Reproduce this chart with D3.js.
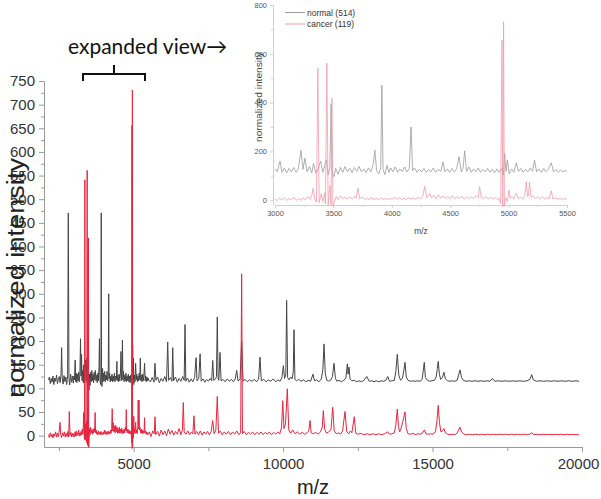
<!DOCTYPE html>
<html>
<head>
<meta charset="utf-8">
<script src="https://cdn.jsdelivr.net/npm/d3@7"></script>
<style>
body { margin: 0; background: #fff; }
</style>
</head>
<body>
<div id="canvas"></div>
<script>
"use strict"

/* spectra, [m/z, normalized intensity] */
let normalSpectrum = [
  [2150,118],[2180,124],[2210,110],[2240,121],[2270,113],[2300,126],[2330,108],[2360,122],[2390,115],[2420,128],
  [2450,110],[2480,119],[2510,125],[2540,112],[2570,130],[2590,186],[2610,122],[2640,109],[2670,127],[2700,114],
  [2730,124],[2760,108],[2790,128],[2813,471],[2835,120],[2860,107],[2890,130],[2920,113],[2950,126],[2980,111],
  [3000,126],[3020,118],[3043,160],[3060,114],[3080,132],[3100,112],[3120,130],[3140,116],[3160,134],[3180,114],
  [3200,128],[3222,205],[3240,126],[3256,172],[3275,116],[3295,138],[3315,112],[3330,150],[3350,110],[3370,130],
  [3390,160],[3410,114],[3425,140],[3440,165],[3455,104],[3470,132],[3480,393],[3492,108],[3505,96],[3520,130],
  [3540,106],[3560,134],[3580,114],[3600,138],[3620,116],[3640,130],[3660,112],[3680,134],[3700,118],[3720,138],
  [3740,116],[3760,128],[3780,112],[3800,132],[3820,116],[3840,145],[3855,205],[3870,120],[3890,108],[3905,134],
  [3915,471],[3925,126],[3940,104],[3960,142],[3975,114],[3990,132],[4010,116],[4030,136],[4050,114],[4070,128],
  [4090,118],[4110,136],[4130,116],[4150,130],[4165,300],[4178,120],[4195,132],[4215,114],[4235,126],[4255,116],
  [4275,130],[4295,114],[4315,126],[4335,116],[4355,132],[4375,114],[4395,126],[4420,118],[4439,157],[4455,116],
  [4475,128],[4495,114],[4515,130],[4535,116],[4555,128],[4576,178],[4595,116],[4610,132],[4624,202],[4640,118],
  [4660,136],[4680,114],[4700,128],[4720,116],[4740,132],[4760,114],[4780,126],[4800,116],[4820,130],[4840,114],
  [4860,126],[4880,112],[4900,128],[4920,114],[4940,130],[4955,104],[4966,192],[4978,118],[4990,164],[5005,108],
  [5025,128],[5045,114],[5066,153],[5085,118],[5105,130],[5125,114],[5145,126],[5165,116],[5185,132],[5205,118],
  [5222,164],[5240,116],[5260,128],[5280,114],[5300,130],[5320,116],[5340,126],[5365,153],[5385,116],[5405,126],
  [5425,114],[5445,124],[5465,116],[5485,122],[5500,117],
  [5560,114],[5620,123],[5680,113],[5714,153],[5745,117],[5800,124],[5860,112],[5920,121],[5980,115],[6040,125],
  [6100,114],[6139,198],[6170,117],[6230,123],[6280,115],[6307,186],[6335,116],[6400,124],[6460,113],[6520,121],
  [6580,115],[6640,125],[6690,117],[6718,235],[6745,115],[6800,122],[6860,113],[6920,120],[6980,114],[7040,123],
  [7088,165],[7120,116],[7180,121],[7222,173],[7260,115],[7320,120],[7380,113],[7440,119],[7500,115],[7560,121],
  [7610,116],[7645,159],[7680,117],[7740,120],[7770,125],[7798,251],[7825,121],[7850,117],[7889,176],[7925,116],
  [7990,119],[8060,114],[8130,120],[8200,115],[8270,119],[8340,114],[8400,120],[8447,138],[8490,116],[8560,119],
  [8613,200],[8660,115],[8730,119],[8800,114],[8880,118],[8960,115],[9040,119],[9110,114],[9180,120],[9227,166],
  [9270,116],[9350,119],[9430,114],[9510,118],[9590,115],[9670,120],[9750,114],[9830,118],[9900,115],[9960,123],
  [10008,148],[10050,121],[10090,130],[10118,286],[10150,123],[10200,118],[10250,124],[10300,120],[10340,135],[10364,224],
  [10395,119],[10450,116],[10520,119],[10600,115],[10680,118],[10760,114],[10840,117],[10920,115],[11000,130],[11050,116],
  [11120,118],[11200,114],[11280,120],[11330,140],[11369,194],[11410,132],[11460,117],[11520,115],[11600,118],[11650,125],
  [11704,153],[11750,121],[11800,115],[11870,117],[11950,114],[12030,117],[12100,122],[12150,152],[12175,130],[12204,145],
  [12240,120],[12300,116],[12380,117],[12460,114],[12540,116],[12620,114],[12700,117],[12800,125],[12880,115],[12960,116],
  [13040,114],[13120,116],[13200,114],[13280,116],[13360,115],[13440,117],[13500,125],[13560,115],[13640,116],[13720,117],
  [13770,135],[13820,172],[13870,128],[13930,117],[13990,121],[14040,138],[14078,155],[14120,124],[14180,117],[14260,115],
  [14340,116],[14420,115],[14500,116],[14580,115],[14650,119],[14690,138],[14723,155],[14760,123],[14830,117],[14900,115],
  [14980,116],[15060,117],[15120,124],[15160,142],[15190,157],[15230,130],[15270,119],[15330,123],[15380,134],[15430,120],
  [15500,116],[15580,115],[15660,116],[15740,115],[15820,117],[15870,128],[15920,139],[15970,123],[16030,117],[16120,115],
  [16220,116],[16320,115],[16420,116],[16520,115],[16620,116],[16720,115],[16820,116],[16920,115],[17000,121],[17080,115],
  [17200,116],[17320,115],[17440,116],[17560,115],[17680,116],[17800,115],[17920,116],[18040,115],[18160,116],[18260,119],
  [18317,129],[18370,118],[18480,115],[18600,116],[18720,115],[18840,116],[18960,115],[19080,116],[19200,115],[19320,116],
  [19440,115],[19560,116],[19680,115],[19800,116],[19900,115]
];

let cancerSpectrum = [
  [2150,2],[2180,-4],[2210,6],[2240,-2],[2270,3],[2300,-5],[2330,4],[2360,-1],[2390,8],[2420,-3],
  [2450,5],[2480,-2],[2510,10],[2535,28],[2560,2],[2590,-4],[2620,6],[2650,-1],[2680,8],[2710,-3],
  [2740,5],[2770,-2],[2800,9],[2825,-3],[2847,51],[2870,0],[2900,7],[2930,-3],[2960,5],[2990,-2],
  [3000,4],[3020,-2],[3040,8],[3060,0],[3080,10],[3100,-1],[3120,6],[3140,2],[3160,12],[3180,-1],
  [3200,6],[3220,0],[3240,9],[3260,2],[3280,14],[3300,3],[3315,20],[3327,49],[3340,5],[3355,-8],
  [3367,541],[3378,-10],[3395,25],[3410,-5],[3425,30],[3432,-15],[3444,561],[3455,-20],[3470,60],[3480,-22],
  [3487,418],[3496,-25],[3510,-5],[3525,15],[3540,2],[3560,18],[3580,6],[3600,12],[3620,3],[3640,14],
  [3660,5],[3680,16],[3695,8],[3710,49],[3725,6],[3745,12],[3765,3],[3785,8],[3805,2],[3825,10],
  [3845,3],[3865,7],[3885,2],[3905,9],[3925,3],[3945,6],[3965,2],[3985,8],[4005,3],[4025,12],
  [4045,4],[4065,9],[4085,2],[4105,8],[4125,3],[4145,10],[4165,4],[4185,8],[4205,3],[4225,12],
  [4245,5],[4265,15],[4282,57],[4300,10],[4312,18],[4325,27],[4340,8],[4360,20],[4380,6],[4400,22],
  [4420,8],[4440,18],[4460,5],[4480,15],[4500,6],[4520,18],[4540,5],[4560,14],[4580,6],[4600,16],
  [4620,4],[4640,12],[4660,5],[4680,14],[4700,6],[4720,18],[4740,10],[4752,55],[4765,12],[4785,6],
  [4805,14],[4825,5],[4845,12],[4865,4],[4885,10],[4905,3],[4920,8],[4932,-15],[4943,656],[4950,-27],
  [4957,731],[4964,-25],[4975,10],[4990,-5],[5003,41],[5015,8],[5030,15],[5045,4],[5066,28],[5085,6],
  [5100,12],[5120,4],[5140,20],[5151,75],[5163,15],[5170,20],[5179,75],[5192,12],[5210,18],[5230,6],
  [5250,14],[5270,5],[5290,12],[5310,4],[5330,10],[5348,6],[5365,38],[5380,5],[5400,10],[5420,3],
  [5440,8],[5460,2],[5480,6],[5500,3],
  [5530,8],[5580,-2],[5640,10],[5690,4],[5714,40],[5740,2],[5800,9],[5860,-1],[5920,12],[5980,2],
  [6040,10],[6100,0],[6160,14],[6220,3],[6280,11],[6340,1],[6400,9],[6460,3],[6520,15],[6580,2],
  [6630,12],[6661,70],[6690,8],[6750,3],[6810,10],[6870,2],[6930,8],[6980,4],[7019,42],[7050,3],
  [7110,9],[7170,2],[7230,10],[7290,1],[7350,8],[7410,3],[7470,9],[7530,2],[7590,8],[7645,32],
  [7690,4],[7750,12],[7798,83],[7840,5],[7900,10],[7960,2],[8030,8],[8100,3],[8170,9],[8240,2],
  [8310,8],[8380,3],[8450,10],[8520,2],[8580,6],[8613,342],[8640,4],[8700,9],[8770,2],[8840,7],
  [8910,3],[8980,8],[9050,2],[9120,7],[9190,3],[9260,8],[9330,2],[9400,7],[9470,3],[9540,8],
  [9610,2],[9680,7],[9750,3],[9820,8],[9890,4],[9950,18],[9987,74],[10030,15],[10080,25],[10141,99],
  [10190,12],[10250,5],[10320,12],[10400,4],[10480,8],[10560,3],[10640,7],[10720,3],[10800,6],[10860,10],
  [10900,32],[10940,6],[11010,4],[11090,7],[11170,3],[11250,8],[11310,18],[11346,53],[11390,14],[11450,5],
  [11520,8],[11600,12],[11660,60],[11710,10],[11780,4],[11850,6],[11920,3],[11990,10],[12071,51],[12130,8],
  [12200,4],[12250,10],[12300,6],[12382,40],[12430,5],[12510,3],[12600,5],[12700,2],[12800,4],[12900,2],
  [13000,4],[13100,2],[13200,4],[13300,2],[13400,4],[13500,8],[13560,3],[13640,4],[13720,6],[13770,22],
  [13820,56],[13860,20],[13900,8],[13950,16],[14000,28],[14078,50],[14120,15],[14180,4],[14260,3],[14340,5],
  [14420,2],[14500,4],[14580,3],[14650,5],[14723,12],[14780,4],[14860,3],[14940,4],[15020,3],[15100,9],
  [15150,34],[15190,64],[15230,28],[15280,8],[15330,10],[15380,15],[15430,6],[15500,3],[15580,2],[15660,3],
  [15740,2],[15820,5],[15870,12],[15920,18],[15970,8],[16040,3],[16140,2],[16240,3],[16340,2],[16440,3],
  [16540,2],[16640,3],[16740,2],[16840,3],[16940,2],[17040,3],[17140,2],[17240,3],[17340,2],[17440,3],
  [17540,2],[17640,3],[17740,2],[17840,3],[17940,2],[18040,3],[18140,2],[18240,3],[18317,6],[18400,2],
  [18500,3],[18600,2],[18700,3],[18800,2],[18900,3],[19000,2],[19100,3],[19200,2],[19300,3],[19400,2],
  [19500,3],[19600,2],[19700,3],[19800,2],[19900,2]
];

let mainXTicks = [5000, 10000, 15000, 20000];
let mainYTicks = [0, 50, 100, 150, 200, 250, 300, 350, 400, 450, 500, 550, 600, 650, 700, 750];
let insetXTicks = [3000, 3500, 4000, 4500, 5000, 5500];
let insetYTicks = [0, 200, 400, 600, 800];
let legendLabels = ["normal (514)", "cancer (119)"];

let fontFace = "'Liberation Sans', Arial, sans-serif";

let drawing = d3.select("#canvas")
    .append("svg")
    .attr("width", 601)
    .attr("height", 499)
    .style("display", "block")
    .attr("font-family", fontFace);

/* main chart scales */
let x = d3.scaleLinear().domain([2000, 20000]).range([44, 582]);
let y = d3.scaleLinear().domain([-24, 750]).range([447, 81]);

let mainLine = d3.line()
    .x(d => x(d[0]))
    .y(d => y(d[1]));

/* x axis, minor ticks first */
drawing.append("g")
    .attr("transform", "translate(0,447)")
    .call(d3.axisBottom(x).tickValues([2500, 7500, 12500, 17500]).tickFormat("").tickSize(4).tickSizeOuter(0))
    .call(g => g.select(".domain").remove());

let xAxis = drawing.append("g")
    .attr("transform", "translate(0,447)")
    .call(d3.axisBottom(x).tickValues(mainXTicks).tickFormat(d3.format("d")).tickSize(5).tickSizeOuter(0).tickPadding(6));

/* y axis */
drawing.append("g")
    .attr("transform", "translate(44,0)")
    .call(d3.axisLeft(y).tickValues(d3.range(25, 750, 50)).tickFormat("").tickSize(3).tickSizeOuter(0))
    .call(g => g.select(".domain").remove());

let yAxis = drawing.append("g")
    .attr("transform", "translate(44,0)")
    .call(d3.axisLeft(y).tickValues(mainYTicks).tickSize(5).tickSizeOuter(0).tickPadding(4));

drawing.selectAll(".tick line, .domain").attr("stroke", "#9a9a9a");
xAxis.attr("font-family", fontFace).attr("font-size", 15);
yAxis.attr("font-family", fontFace).attr("font-size", 15);
xAxis.selectAll("text").attr("fill", "#333");
yAxis.selectAll("text").attr("fill", "#333");
// keep the last label inside the picture
xAxis.selectAll("text").filter(d => d === 20000).attr("dx", -4);

/* the two spectra */
drawing.append("path")
    .datum(normalSpectrum)
    .attr("d", mainLine)
    .attr("fill", "none")
    .attr("stroke", "#454545")
    .attr("stroke-width", 1);

drawing.append("path")
    .datum(cancerSpectrum)
    .attr("d", mainLine)
    .attr("fill", "none")
    .attr("stroke", "#e6253f")
    .attr("stroke-width", 1);

/* axis titles */
drawing.append("text")
    .attr("transform", "rotate(-90)")
    .attr("x", -278)
    .attr("y", 24)
    .attr("text-anchor", "middle")
    .attr("font-size", 23)
    .attr("textLength", 240)
    .attr("lengthAdjust", "spacingAndGlyphs")
    .attr("fill", "#222")
    .text("normalized intensity");

drawing.append("text")
    .attr("x", 313)
    .attr("y", 494)
    .attr("text-anchor", "middle")
    .attr("font-size", 20)
    .attr("fill", "#222")
    .text("m/z");

/* expanded view note and bracket */
drawing.append("text")
    .attr("x", 68)
    .attr("y", 54)
    .attr("font-family", "Lato, 'Open Sans', sans-serif")
    .attr("font-size", 21)
    .attr("fill", "#111")
    .text("expanded view→");

drawing.append("path")
    .attr("d", "M83,81 V74 H145 V81 M114,74 V65")
    .attr("fill", "none")
    .attr("stroke", "#111")
    .attr("stroke-width", 2);

/* inset */
let xIn = d3.scaleLinear().domain([3000, 5500]).range([275, 567]);
let yIn = d3.scaleLinear().domain([-20, 800]).range([205, 5]);

let insetLine = d3.line()
    .x(d => xIn(d[0]))
    .y(d => yIn(d[1]));

let inset = drawing.append("g");

inset.append("g")
    .attr("transform", "translate(0,205)")
    .call(d3.axisBottom(xIn).tickValues([3250, 3750, 4250, 4750, 5250]).tickFormat("").tickSize(2).tickSizeOuter(0))
    .call(g => g.select(".domain").remove());

let xAxisIn = inset.append("g")
    .attr("transform", "translate(0,205)")
    .call(d3.axisBottom(xIn).tickValues(insetXTicks).tickFormat(d3.format("d")).tickSize(3).tickSizeOuter(0).tickPadding(3));

inset.append("g")
    .attr("transform", "translate(273,0)")
    .call(d3.axisLeft(yIn).tickValues([100, 300, 500, 700]).tickFormat("").tickSize(2).tickSizeOuter(0))
    .call(g => g.select(".domain").remove());

let yAxisIn = inset.append("g")
    .attr("transform", "translate(273,0)")
    .call(d3.axisLeft(yIn).tickValues(insetYTicks).tickSize(3).tickSizeOuter(0).tickPadding(3));

inset.selectAll(".tick line, .domain").attr("stroke", "#d0d0d0");
xAxisIn.attr("font-family", fontFace).attr("font-size", 7.5);
yAxisIn.attr("font-family", fontFace).attr("font-size", 7.5);
inset.selectAll("text").attr("fill", "#555");

inset.append("path")
    .datum(normalSpectrum.filter(d => d[0] >= 3000 && d[0] <= 5500))
    .attr("d", insetLine)
    .attr("fill", "none")
    .attr("stroke", "#9a9a9a")
    .attr("stroke-width", 0.8);

inset.append("path")
    .datum(cancerSpectrum.filter(d => d[0] >= 3000 && d[0] <= 5500))
    .attr("d", insetLine)
    .attr("fill", "none")
    .attr("stroke", "#f29aab")
    .attr("stroke-width", 0.8);

inset.append("text")
    .attr("transform", "rotate(-90)")
    .attr("x", -97)
    .attr("y", 262)
    .attr("text-anchor", "middle")
    .attr("font-size", 9)
    .attr("textLength", 90)
    .attr("lengthAdjust", "spacingAndGlyphs")
    .attr("fill", "#444")
    .text("normalized intensity");

inset.append("text")
    .attr("x", 421)
    .attr("y", 234)
    .attr("text-anchor", "middle")
    .attr("font-size", 8.5)
    .attr("fill", "#444")
    .text("m/z");

/* legend */
let legendColours = ["#9a9a9a", "#f29aab"];
legendLabels.forEach((label, i) => {
  inset.append("line")
      .attr("x1", 285)
      .attr("x2", 305)
      .attr("y1", 12.5 + i * 11.5)
      .attr("y2", 12.5 + i * 11.5)
      .attr("stroke", legendColours[i])
      .attr("stroke-width", 1);
  inset.append("text")
      .attr("x", 307)
      .attr("y", 15.5 + i * 11.5)
      .attr("font-size", 8.5)
      .attr("fill", "#333")
      .text(label);
});
</script>
</body>
</html>
